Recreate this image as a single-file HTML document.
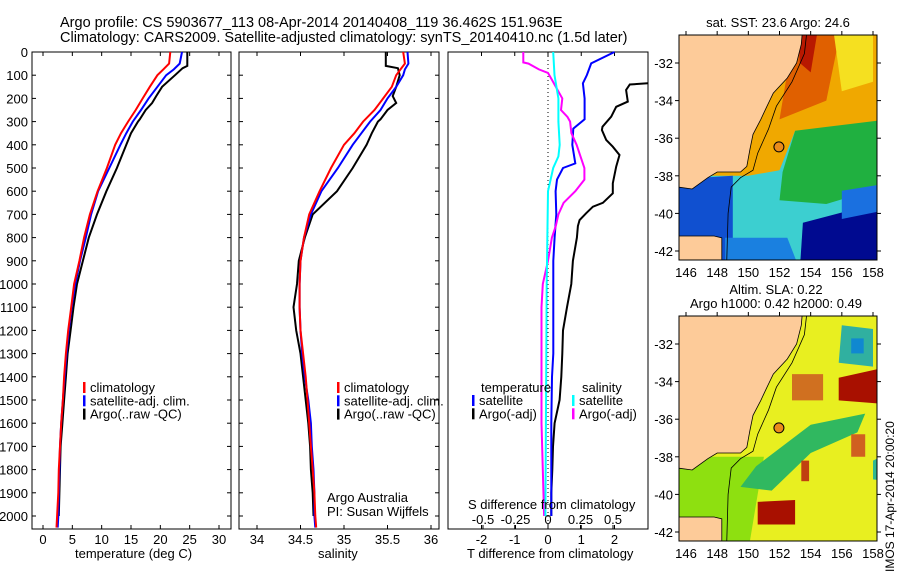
<!DOCTYPE html>
<html><head><meta charset="utf-8"><style>
body{margin:0;background:#fff;}
svg{font-family:"Liberation Sans",sans-serif;}
text{font-size:13px;fill:#000;}
</style></head><body>
<svg id="c" width="900" height="580" viewBox="0 0 900 580" xmlns="http://www.w3.org/2000/svg">
<text x="60" y="27" style="font-size:14.5px">Argo profile: CS 5903677_113 08-Apr-2014 20140408_119 36.462S 151.963E</text>
<text x="60" y="42" style="font-size:14.5px">Climatology: CARS2009. Satellite-adjusted climatology: synTS_20140410.nc (1.5d later)</text>
<g id="maps"></g>
<g id="plots"></g>
</svg>
<script>
const NS='http://www.w3.org/2000/svg';
const svg=document.getElementById('c');
function mk(tag,attrs,parent,txt){const e=document.createElementNS(NS,tag);for(const k in attrs)e.setAttribute(k,attrs[k]);if(txt!==undefined)e.textContent=txt;(parent||svg).appendChild(e);return e;}

// ---- data ----
const depthTicks=[0,100,200,300,400,500,600,700,800,900,1000,1100,1200,1300,1400,1500,1600,1700,1800,1900,2000];
const tempTicks=[0,5,10,15,20,25,30];
const salTicks=[34,34.5,35,35.5,36];
const salTickLabels=['34','34.5','35','35.5','36'];
const tdiffTicks=[-2,-1,0,1,2];
const sdiffTicks=[-0.5,-0.25,0,0.25,0.5];
const sdiffTickLabels=['-0.5','-0.25','0','0.25','0.5'];
const lonTicks=[146,148,150,152,154,156,158];
const latTicks=[-32,-34,-36,-38,-40,-42];

const depthClim=[0,50,75,100,150,200,250,300,350,400,500,600,700,800,900,1000,1100,1200,1300,1400,1500,1600,1700,1800,1900,2000,2050];
const tempClim=[21.7,21.5,20.5,19.5,18.2,17,15.8,14.5,13.3,12.3,10.9,9.3,8,7,6.2,5.3,4.8,4.3,3.9,3.6,3.4,3.1,2.9,2.7,2.6,2.4,2.3];
const tempSat=[23.7,23.3,22.3,21,19.5,18,16.7,15.3,14.2,13.2,11.3,9.4,8.2,7.3,6.3,5.5,4.9,4.4,4,3.7,3.4,3.1,2.9,2.8,2.7,2.6,2.5];
const salClim=[35.68,35.70,35.65,35.6,35.55,35.45,35.35,35.22,35.12,35.0,34.85,34.72,34.6,34.54,34.5,34.49,34.49,34.5,34.53,34.56,34.58,34.6,34.62,34.64,34.66,34.67,34.68];
const salSat=[35.73,35.74,35.7,35.68,35.6,35.5,35.42,35.3,35.2,35.1,34.93,34.74,34.62,34.54,34.5,34.49,34.49,34.5,34.52,34.55,34.59,34.62,34.63,34.65,34.66,34.66,34.67];
const depthArgo=[0,60,70,100,150,190,220,250,290,300,350,400,500,600,700,800,900,1000,1100,1200,1300,1400,1500,1600,1700,1800,1900,2000];
const tempArgo=[24.6,24.6,23.8,22.5,20.3,19.3,18.6,17.5,16.5,16.2,15,14.2,12.6,10.8,9.2,7.8,6.8,5.8,5.2,4.7,4.2,3.9,3.6,3.3,3,2.9,2.8,2.7];
const salArgo=[35.48,35.48,35.62,35.64,35.6,35.56,35.6,35.5,35.42,35.39,35.32,35.26,35.1,34.92,34.64,34.55,34.48,34.46,34.42,34.45,34.5,34.53,34.56,34.59,34.61,34.62,34.64,34.65];
const depthTSat=[0,49,99,135,200,290,330,400,480,500,550,600,700,800,900,1300,1400,1600,2000];
const tdiffSat=[2.0,1.3,1.17,1.05,1.1,1.1,0.76,0.73,0.82,0.45,0.27,0.23,0.25,0.2,0.16,0.16,0.12,0.1,0.1];
const depthTArgo=[135,140,164,214,236,279,322,336,379,408,444,494,566,609,650,667,695,724,750,800,900,1000,1100,1200,1300,1400,1500,1600,1700,1800,1900,2000];
const tdiffArgo=[3.0,2.46,2.35,2.4,2.05,1.9,1.64,1.62,1.75,1.95,2.15,2.05,1.95,1.95,1.65,1.35,1.15,0.95,0.9,0.87,0.75,0.7,0.57,0.45,0.43,0.4,0.35,0.2,0.15,0.13,0.1,0.1];
const depthSSat=[0,100,200,300,400,450,500,550,600,1000,2000];
const sdiffSat=[0.04,0.05,0.08,0.08,0.09,0.08,0.04,0.02,0.0,-0.01,-0.02];
const depthSArgo=[0,45,50,75,90,120,150,200,250,280,300,350,400,450,500,550,600,650,700,750,800,900,1000,1100,1600,1800,2000];
const sdiffArgo=[-0.19,-0.19,-0.15,-0.07,0.0,0.03,0.06,0.11,0.1,0.15,0.17,0.18,0.22,0.25,0.28,0.28,0.21,0.12,0.08,0.06,0.03,0.0,-0.04,-0.05,-0.05,-0.04,-0.03];

// ---- axes ----
const Y0=52,Y1=529;
const yD=d=>Y0+(d-0)*(516-52)/2000;
const xT=v=>43+v*(219-43)/30;
const xS=v=>257+(v-34)*(431-257)/2;
const xTD=v=>548+v*(614-481)/4;
const xSD=v=>548+v*130;

const plots=document.getElementById('plots');
function panel(name,x0,x1){
  const r=mk('rect',{x:x0,y:Y0,width:x1-x0,height:Y1-Y0,fill:'#fff',stroke:'#000','stroke-width':1},plots);
  
  
}
function line(name,xs,ds,xf,color){
  const pts=xs.map((v,i)=>xf(v).toFixed(1)+','+yD(ds[i]).toFixed(1)).join(' ');
  const p=mk('polyline',{points:pts,fill:'none',stroke:color,'stroke-width':2},plots);
  
  
}
function xticks(ticks,labels,xf,yTop,yBot,labY,name){
  ticks.forEach((t,i)=>{
    const x=xf(t);
    mk('line',{x1:x,x2:x,y1:yBot,y2:yBot-4,stroke:'#000'},plots);
    if(yTop!==null)mk('line',{x1:x,x2:x,y1:yTop,y2:yTop+4,stroke:'#000'},plots);
    const tx=mk('text',{x:x,y:labY,'text-anchor':'middle'},plots,labels[i]);
    
    
  });
}
function yticks(x0,x1){
  depthTicks.forEach(d=>{
    const y=yD(d);
    mk('line',{x1:x0,x2:x0+4,y1:y,y2:y,stroke:'#000'},plots);
    mk('line',{x1:x1,x2:x1-4,y1:y,y2:y,stroke:'#000'},plots);
  });
}
panel('temperature-panel',32,231);
panel('salinity-panel',239,439);
panel('difference-panel',448,648);
yticks(32,231);yticks(239,439);
depthTicks.forEach(d=>{
  const t=mk('text',{x:28,y:yD(d)+5,'text-anchor':'end'},plots,String(d));
  
  
});
xticks(tempTicks,tempTicks.map(String),xT,Y0,Y1,544,'temperature');
xticks(salTicks,salTickLabels,xS,Y0,Y1,544,'salinity');
xticks(tdiffTicks,tdiffTicks.map(String),xTD,Y0,Y1,544,'tdiff');
xticks(sdiffTicks,sdiffTickLabels,xSD,null,Y1,524,'sdiff');
mk('line',{x1:xTD(0),x2:xTD(0),y1:Y0,y2:Y1,stroke:'#000','stroke-dasharray':'1,3'},plots);

line('temp-argo-line',tempArgo,depthArgo,xT,'#000');
line('temp-sat-line',tempSat,depthClim,xT,'#0000ff');
line('temp-clim-line',tempClim,depthClim,xT,'#ff0000');
line('sal-argo-line',salArgo,depthArgo,xS,'#000');
line('sal-sat-line',salSat,depthClim,xS,'#0000ff');
line('sal-clim-line',salClim,depthClim,xS,'#ff0000');
line('tdiff-argo-line',tdiffArgo,depthTArgo,xTD,'#000');
line('tdiff-sat-line',tdiffSat,depthTSat,xTD,'#0000ff');
line('sdiff-argo-line',sdiffArgo,depthSArgo,xSD,'#ff00ff');
line('sdiff-sat-line',sdiffSat,depthSSat,xSD,'#00ffff');

function legend(x,y,items,name){
  items.forEach((it,i)=>{
    const yy=y+i*13.3;
    mk('rect',{x:x,y:yy-10,width:2.5,height:11,fill:it[1]},plots);
    const t=mk('text',{x:x+7,y:yy},plots,it[0]);
    
    
  });
}
legend(83,392,[['climatology','#ff0000'],['satellite-adj. clim.','#0000ff'],['Argo(..raw -QC)','#000']],'temp-legend');
legend(337,392,[['climatology','#ff0000'],['satellite-adj. clim.','#0000ff'],['Argo(..raw -QC)','#000']],'sal-legend');
mk('text',{x:481,y:392},plots,'temperature');
legend(472,405,[['satellite','#0000ff'],['Argo(-adj)','#000']],'tdiff-legend');
mk('text',{x:582,y:392},plots,'salinity');
legend(572,405,[['satellite','#00ffff'],['Argo(-adj)','#ff00ff']],'sdiff-legend');
mk('text',{x:327,y:502},plots,'Argo Australia');
mk('text',{x:327,y:516},plots,'PI: Susan Wijffels');
mk('text',{x:468,y:509},plots,'S difference from climatology');
mk('text',{x:75,y:558},plots,'temperature (deg C)');
mk('text',{x:318,y:558},plots,'salinity');
mk('text',{x:467,y:558},plots,'T difference from climatology');

// ---- maps ----
const maps=document.getElementById('maps');
const MX0=679,MX1=877;
const lx=l=>686+(l-146)*(873-686)/12;
function drawMap(name,top,bot,yLat,regions){
  const g=mk('g',{},maps);
  
  
  const cid='clip'+name;
  const cp=mk('clipPath',{id:cid},g);mk('rect',{x:MX0,y:top,width:MX1-MX0,height:bot-top},cp);
  const inner=mk('g',{'clip-path':'url(#'+cid+')'},g);
  regions.forEach(r=>mk('polygon',{points:r[0].map(p=>lx(p[0]).toFixed(1)+','+yLat(p[1]).toFixed(1)).join(' '),fill:r[1]},inner));
  const land=[[145,-30],[153.5,-30],[153.4,-31],[153.1,-32],[152.5,-32.8],[151.6,-33.6],[151.2,-34.3],[150.8,-35],[150.3,-35.8],[150.1,-36.6],[149.9,-37.5],[149.5,-37.8],[148,-37.8],[147.4,-38.1],[146.4,-38.7],[145.5,-38.6],[145,-38.6]];
  mk('polygon',{points:land.map(p=>lx(p[0]).toFixed(1)+','+yLat(p[1]).toFixed(1)).join(' '),fill:'#fdcb99',stroke:'#000','stroke-width':0.8},inner);
  const tas=[[145,-41.2],[147.8,-41.2],[148.3,-41.3],[148.3,-43],[145,-43]];
  mk('polygon',{points:tas.map(p=>lx(p[0]).toFixed(1)+','+yLat(p[1]).toFixed(1)).join(' '),fill:'#fdcb99',stroke:'#000','stroke-width':0.8},inner);
  const shelf=[[153.8,-30],[153.6,-31.5],[152.8,-33],[151.8,-34.3],[151.3,-35.5],[150.6,-36.8],[150.3,-37.7],[149.5,-38.1],[148.9,-38.6],[148.7,-40],[148.6,-43]];
  mk('polyline',{points:shelf.map(p=>lx(p[0]).toFixed(1)+','+yLat(p[1]).toFixed(1)).join(' '),fill:'none',stroke:'#000','stroke-width':0.8},inner);
  mk('circle',{cx:lx(151.963),cy:yLat(-36.462),r:5,fill:'#e98b1c',stroke:'#000'},inner);
  mk('rect',{x:MX0,y:top,width:MX1-MX0,height:bot-top,fill:'none',stroke:'#000'},g);
  lonTicks.forEach(l=>{mk('line',{x1:lx(l),x2:lx(l),y1:top,y2:top-4,stroke:'#000'},g);
    const t=mk('text',{x:lx(l),y:bot+17,'text-anchor':'middle'},g,String(l));
    });
  latTicks.forEach(l=>{mk('line',{x1:MX0,x2:MX0-4,y1:yLat(l),y2:yLat(l),stroke:'#000'},g);mk('line',{x1:MX1,x2:MX1+4,y1:yLat(l),y2:yLat(l),stroke:'#000'},g);
    const t=mk('text',{x:MX0-6,y:yLat(l)+5,'text-anchor':'end'},g,String(l));
    });
}
const yL1=l=>63+(l+32)*(251-63)/-10;
const yL2=l=>344+(l+32)*(532-344)/-10;
drawMap('sst-map',35,260,yL1,[
 [[[145,-30],[159,-30],[159,-43],[145,-43]],'#3ccfd0'],
 [[[145,-30],[159,-30],[159,-35.5],[153,-35.6],[152,-37.7],[150,-38],[145,-38]],'#f0a800'],
 [[[153,-30],[156,-30],[155,-34],[153.5,-34.5],[152,-35]],'#e06000'],
 [[[153.2,-30],[154.5,-30],[154,-32.5],[153.3,-32]],'#b81800'],
 [[[155.5,-30.5],[158,-30.5],[158,-33],[156,-33.5]],'#f5e020'],
 [[[153,-35.6],[159,-35],[159,-38.5],[155,-39.5],[152,-39.3],[152.2,-37.8]],'#20b040'],
 [[[145,-38.2],[149,-38],[149,-43],[145,-43]],'#1050d0'],
 [[[153.5,-40.5],[159,-39.3],[159,-43],[153.3,-43]],'#000a90'],
 [[[156,-38.8],[159,-38.4],[159,-39.8],[156,-40.3]],'#1a70e0'],
 [[[148.5,-41.3],[152.5,-41.3],[153.3,-43],[148.5,-43]],'#1a80e0']
]);
drawMap('sla-map',316,541,yL2,[
 [[[145,-30],[159,-30],[159,-43],[145,-43]],'#e8ef20'],
 [[[145,-38],[151,-38],[150,-43],[145,-43]],'#8ee010'],
 [[[150.5,-38.5],[154,-36.3],[157.5,-35.7],[157,-36.7],[154,-37.8],[151.5,-39.8],[149.5,-39.6]],'#30b860'],
 [[[156,-31],[158,-31.2],[158,-33.2],[155.8,-33]],'#30b0a0'],
 [[[156.6,-31.7],[157.4,-31.7],[157.4,-32.5],[156.6,-32.5]],'#1088d0'],
 [[[155.8,-33.8],[159,-33.2],[159,-35.2],[155.8,-35]],'#a81000'],
 [[[150.6,-40.4],[153,-40.3],[153,-41.6],[150.6,-41.6]],'#a81000'],
 [[[152.8,-33.6],[154.8,-33.6],[154.8,-35],[152.8,-35]],'#d07020'],
 [[[153.4,-38.2],[153.9,-38.2],[153.9,-39.3],[153.4,-39.3]],'#c04010'],
 [[[156.6,-36.8],[157.5,-36.8],[157.5,-38],[156.6,-38]],'#d06020'],
 [[[158,-38.2],[159,-37.8],[159,-39.3],[158,-39.2]],'#30b890']
]);
mk('text',{x:778,y:27,'text-anchor':'middle'},maps,'sat. SST: 23.6 Argo: 24.6');
mk('text',{x:776,y:294,'text-anchor':'middle'},maps,'Altim. SLA: 0.22');
mk('text',{x:776,y:308,'text-anchor':'middle'},maps,'Argo h1000: 0.42 h2000: 0.49');
mk('text',{x:894,y:572,transform:'rotate(-90 894 572)',style:'font-size:12px'},maps,'IMOS 17-Apr-2014 20:00:20');
</script>
</body></html>
